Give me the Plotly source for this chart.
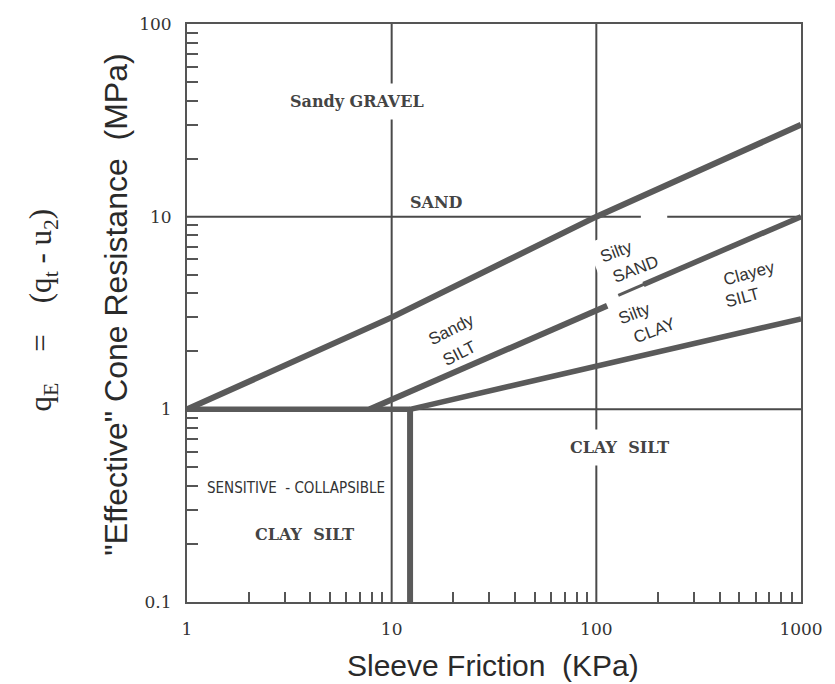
import math
import plotly.graph_objects as go

# ---------------- data (sleeve friction kPa, effective cone resistance MPa) ----------------
upper_x = [1, 10, 100, 1000]
upper_y = [1.0, 3.0, 10.0, 30.0]

mid_left_x = [7.8, 113]
mid_left_y = [1.0, 3.45]

mid_right_thin_x = [128, 175]
mid_right_thin_y = [3.9, 4.5]
mid_right_x = [170, 1000]
mid_right_y = [4.45, 10.0]

lower_x = [12.3, 100, 1000]
lower_y = [1.0, 1.68, 2.95]

base_x = [1, 12.3]
base_y = [1.0, 1.0]

bar_x = [12.3, 12.3]
bar_y = [0.1, 1.0]

grid_h1_x = [1, 1000]
grid_h1_y = [1, 1]
grid_h10a_x = [1, 165]
grid_h10b_x = [222, 1000]
grid_h10_y = [10, 10]
grid_v10_x = [10, 10]
grid_v100_x = [100, 100]
grid_v_y = [0.1, 100]

x_ticks = [1, 10, 100, 1000]
x_ticktext = ["1", "10", "100", "1000"]
y_ticks = [0.1, 1, 10, 100]
y_ticktext = ["0.1", "1", "10", "100"]
minor_x = [m * d for d in (1, 10, 100) for m in range(2, 10)]
minor_y = [m * d for d in (0.1, 1, 10) for m in range(2, 10)]

# zone labels: (text, x, y, angle, font kind, white background)
zone_labels = [
    ("Sandy GRAVEL", 6.76, 39.4, 0, "serif", True),
    ("SAND", 16.6, 11.9, 0, "serif", False),
    ("Sandy", 19.6, 2.6, -27, "sans", False),
    ("SILT", 21.4, 1.95, -27, "sans", False),
    ("Silty", 126, 6.6, -21, "sans", True),
    ("SAND", 154.6, 5.32, -21, "sans", False),
    ("Silty", 154, 3.16, -21, "sans", False),
    ("CLAY", 193, 2.56, -21, "sans", False),
    ("Clayey", 554, 5.05, -15, "sans", False),
    ("SILT", 520, 3.82, -15, "sans", False),
    ("CLAY  SILT", 129.7, 0.635, 0, "serif", True),
    ("SENSITIVE  - COLLAPSIBLE", 3.4, 0.389, 0, "narrow", False),
    ("CLAY  SILT", 3.75, 0.224, 0, "serif", False),
]

THICK = "#5a5a5a"
THIN = "#4a4a4a"
TXT = "#333333"

fig = go.Figure()


def add_line(x, y, width, color):
    fig.add_trace(go.Scatter(x=x, y=y, mode="lines",
                             line=dict(color=color, width=width),
                             hoverinfo="skip", showlegend=False))


# thin reference lines
add_line(grid_h1_x, grid_h1_y, 2, THIN)
add_line(grid_h10a_x, grid_h10_y, 2, THIN)
add_line(grid_h10b_x, grid_h10_y, 2, THIN)
add_line(grid_v10_x, grid_v_y, 2, THIN)
add_line(grid_v100_x, grid_v_y, 2, THIN)

# thick zone boundaries
add_line(upper_x, upper_y, 6, THICK)
add_line(mid_left_x, mid_left_y, 6, THICK)
add_line(mid_right_thin_x, mid_right_thin_y, 3, THICK)
add_line(mid_right_x, mid_right_y, 5.5, THICK)
add_line(lower_x, lower_y, 5.5, THICK)
add_line(base_x, base_y, 5.5, THICK)
add_line(bar_x, bar_y, 6, THICK)

fonts = {
    "serif": dict(family="DejaVu Serif", size=16, color="#444444", weight="bold"),
    "sans": dict(family="Liberation Sans, Arial", size=17, color=TXT),
    "narrow": dict(family="Liberation Sans Narrow, DejaVu Sans Condensed", size=15, color=TXT),
}

for text, x, y, ang, kind, bg in zone_labels:
    fig.add_annotation(x=math.log10(x), y=math.log10(y), xref="x", yref="y",
                       text=text, showarrow=False, textangle=ang,
                       font=fonts[kind],
                       bgcolor="white" if bg else "rgba(0,0,0,0)",
                       borderpad=8 if bg else 0)

# axis titles
fig.add_annotation(x=0.499, y=-0.109, xref="paper", yref="paper",
                   text="Sleeve Friction  (KPa)", showarrow=False,
                   font=dict(family="Liberation Sans, Arial", size=30, color="#2a2a2a"),
                   xanchor="center", yanchor="middle")
fig.add_annotation(x=-0.116, y=0.514, xref="paper", yref="paper",
                   text='"Effective" Cone Resistance  (MPa)', showarrow=False,
                   textangle=-90,
                   font=dict(family="Liberation Sans, Arial", size=32, color="#2a2a2a"),
                   xanchor="center", yanchor="middle")
fig.add_annotation(x=-0.234, y=0.505, xref="paper", yref="paper",
                   text="q<sub>E</sub>    =    (q<sub>t</sub> - u<sub>2</sub>)",
                   showarrow=False, textangle=-90,
                   font=dict(family="Liberation Serif, Times New Roman", size=31, color="#2a2a2a"),
                   xanchor="center", yanchor="middle")

axis_common = dict(
    type="log", showgrid=False, zeroline=False,
    showline=True, mirror=True, linecolor="#555555", linewidth=2,
    ticks="", tickfont=dict(family="DejaVu Serif", size=17, color="#333333"),
)

fig.update_xaxes(range=[0, 3], tickvals=x_ticks, ticktext=x_ticktext,
                 minor=dict(tickvals=minor_x, ticks="inside", ticklen=10,
                            tickwidth=1.5, tickcolor="#555555", showgrid=False),
                 ticklabelstandoff=11, **axis_common)
fig.update_yaxes(range=[-1, 2], tickvals=y_ticks, ticktext=y_ticktext,
                 minor=dict(tickvals=minor_y, ticks="inside", ticklen=11,
                            tickwidth=1.5, tickcolor="#555555", showgrid=False),
                 ticklabelstandoff=10, **axis_common)

fig.update_layout(
    width=835, height=684,
    margin=dict(l=187, r=26, t=24, b=82),
    paper_bgcolor="white", plot_bgcolor="white",
    showlegend=False,
)

fig.write_html("out.html")
